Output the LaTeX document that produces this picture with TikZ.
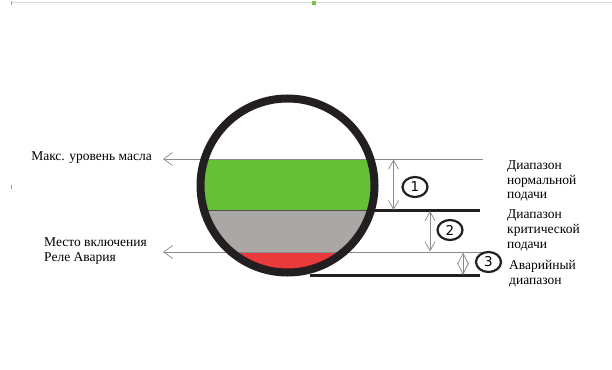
\documentclass[tikz,border=0pt]{standalone}
\usepackage{fontspec}
\setmainfont{Liberation Serif}
\newfontfamily\numfont{DejaVu Sans}
\usetikzlibrary{arrows.meta,shapes.geometric}
\definecolor{oilgreen}{HTML}{66C035}
\definecolor{oilgray}{HTML}{AAA7A4}
\definecolor{oilred}{HTML}{E93B3B}
\definecolor{ring}{HTML}{231F20}
\definecolor{thingray}{HTML}{8A8A8A}
\definecolor{tickgreen}{HTML}{7CC242}
\tikzset{
  thinline/.style={draw=thingray, line width=0.9pt},
  thickline/.style={draw=ring, line width=2.4pt},
  leftarrow/.style={thinline, -{Straight Barb[length=9pt,width=13pt,line width=0.7pt]}},
  dimarrow/.style={draw=thingray, line width=0.8pt, {Straight Barb[length=9pt,width=10pt,line width=0.7pt]}-{Straight Barb[length=9pt,width=10pt,line width=0.7pt]}},
  dimarrowshort/.style={draw=thingray, line width=0.8pt, {Straight Barb[length=11pt,width=11pt,line width=0.7pt]}-{Straight Barb[length=11pt,width=11pt,line width=0.7pt]}},
  numbox/.style={ellipse, draw=ring, line width=2.2pt, minimum width=25pt, minimum height=20pt, inner sep=0pt, font=\numfont\fontsize{13.5}{13.5}\selectfont},
  lbl/.style={font=\fontsize{13.5}{14.8}\selectfont, align=left, inner sep=0pt},
}
\begin{document}
\begin{tikzpicture}[x=1pt,y=-1pt]
\useasboundingbox (0,0) rectangle (612,369);
% top frame line and marks
\coordinate (topL) at (11,2.5);
\coordinate (topR) at (612,2.5);
\draw[draw=black!15, line width=1pt] (topL) -- (topR);
\fill[tickgreen] (10.5,1.5) rectangle (12,5.5);
\fill[tickgreen] (312,1.5) rectangle (316,5.5);
\fill[tickgreen] (10.5,184.5) rectangle (12,188.5);
% circle contents
\coordinate (c) at (287.5,185.5);
\begin{scope}
  \clip (c) circle[radius=87];
  \fill[white] (c) circle[radius=87];
  \fill[oilgreen] (190,159) rectangle (385,210.5);
  \fill[oilgray] (190,210.5) rectangle (385,252);
  \fill[oilred] (190,252) rectangle (385,280);
  \draw[draw=ring!80, line width=0.8pt] (190,210.5) -- (385,210.5);
  \draw[draw=ring!80, line width=0.8pt] (190,252) -- (385,252);
\end{scope}
% level lines
\coordinate (l1a) at (163,159);  \coordinate (l1b) at (483,159);
\coordinate (l2a) at (372,210.5);\coordinate (l2b) at (480,210.5);
\coordinate (l3a) at (163,252);  \coordinate (l3b) at (483,252);
\coordinate (l4a) at (310,275.5);\coordinate (l4b) at (480,275.5);
\draw[leftarrow] (l1b) -- (l1a);
\draw[leftarrow] (l3b) -- (l3a);
\draw[thickline] (l2a) -- (l2b);
\draw[thickline] (l4a) -- (l4b);
% ring
\draw[draw=ring, line width=8pt] (c) circle[radius=87];
% dimension arrows
\coordinate (d1a) at (393.5,159.5); \coordinate (d1b) at (393.5,210);
\coordinate (d2a) at (430,211);     \coordinate (d2b) at (430,251.5);
\coordinate (d3a) at (463,252.5);   \coordinate (d3b) at (463,275);
\draw[dimarrow] (d1a) -- (d1b);
\draw[dimarrow] (d2a) -- (d2b);
\draw[dimarrowshort] (d3a) -- (d3b);
% numbers
\node[numbox] (n1) at (415,187) {1};
\node[numbox] (n2) at (450,230) {2};
\node[numbox] (n3) at (488.5,262) {3};
% labels
\node[lbl, anchor=east] (max) at (152,158) {Макс. уровень масла};
\node[lbl, anchor=west] (relay) at (44,251) {Место включения\\Реле Авария};
\node[lbl, anchor=west] (r1) at (507,181) {Диапазон\\нормальной\\подачи};
\node[lbl, anchor=west] (r2) at (507,230.5) {Диапазон\\критической\\подачи};
\node[lbl, anchor=west] (r3) at (509,273.5) {Аварийный\\диапазон};
\end{tikzpicture}
\end{document}
